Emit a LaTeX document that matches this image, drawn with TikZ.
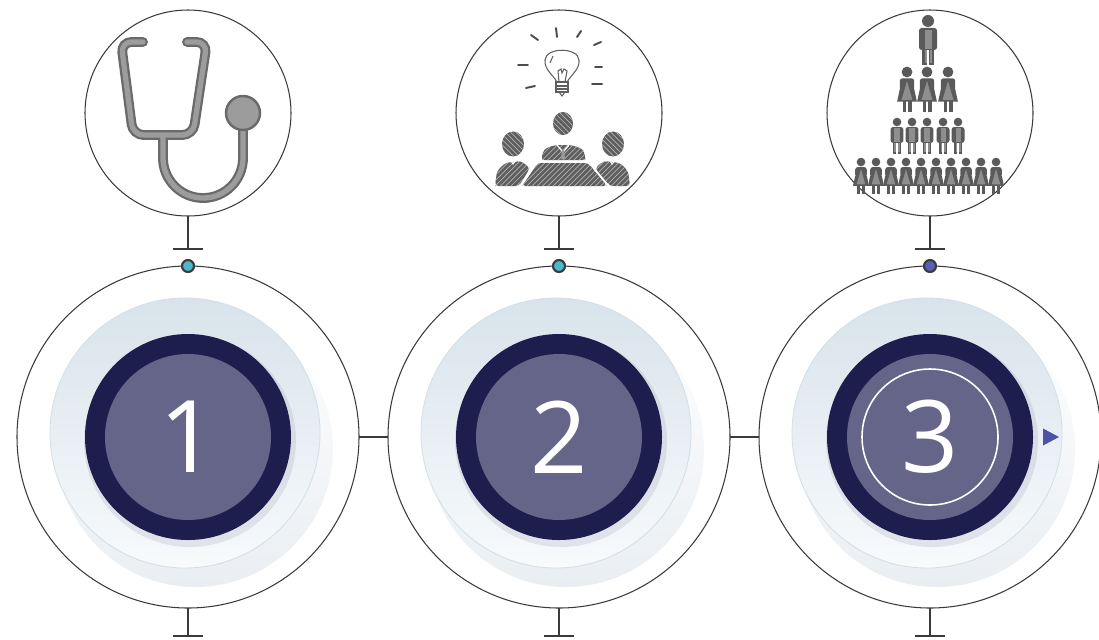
\documentclass[tikz,border=0pt]{standalone}
\usepackage{fontspec}
\setsansfont{Open Sans}
\usetikzlibrary{positioning,patterns}

\definecolor{inkgray}{HTML}{3A3A3A}
\definecolor{navy}{HTML}{1D1E4E}
\definecolor{dusk}{HTML}{646588}
\definecolor{mist}{HTML}{D8E3EB}
\definecolor{frost}{HTML}{F8FAFC}
\definecolor{haze}{HTML}{EAEEF2}
\definecolor{rim}{HTML}{D3E0E8}
\definecolor{dotcyan}{HTML}{4DB8CC}
\definecolor{dotblue}{HTML}{5560B8}
\definecolor{pointer}{HTML}{4B52A8}
\definecolor{iron}{HTML}{6A6A6A}
\definecolor{steel}{HTML}{9C9C9C}
\definecolor{sketch}{HTML}{5E5E5E}
\definecolor{figdark}{HTML}{5A5A5A}
\definecolor{figlight}{HTML}{8E8E8E}

\tikzset{
    man/.pic = {
        \fill[figdark] (0,0) circle (6);
        \fill[figdark, rounded corners=1.5pt] (-9,7) rectangle (9,29);
        \fill[figdark] (-6,28) rectangle (-0.8,44);
        \fill[figdark] (0.8,28) rectangle (6,44);
        \fill[figlight] (-3.5,9) rectangle (3.5,28);
        \fill[figlight] (-3.5,29) rectangle (-1.5,42);
        \fill[figlight] (1.5,29) rectangle (3.5,42);
    },
    woman/.pic = {
        \fill[figdark] (0,0) circle (6);
        \fill[figdark, rounded corners=1.5pt] (-8,7) rectangle (8,21);
        \fill[figdark] (-8,19) -- (8,19) -- (11,33) -- (-11,33) -- cycle;
        \fill[figdark] (-5,32) rectangle (-1.5,44);
        \fill[figdark] (1.5,32) rectangle (5,44);
        \fill[figlight] (0,10) -- (6,31) -- (-6,31) -- cycle;
    }
}

\begin{document}
\begin{tikzpicture}
    \tikzset{
        ring/.style = {circle, draw=inkgray, line width=0.6pt, minimum size=6.84cm, inner sep=0, outer sep=0},
        icon/.style = {circle, draw=inkgray, line width=0.6pt, minimum size=4.12cm, inner sep=0, outer sep=0},
        disc/.style = {circle, fill=navy, minimum size=4.12cm, inner sep=0},
        core/.style = {circle, fill=dusk, minimum size=3.32cm, inner sep=0, text=white, font=\sffamily\fontsize{57}{60}\selectfont},
        dot/.style = {circle, draw=inkgray, line width=1.2pt, minimum size=0.24cm, inner sep=0},
        tee/.style = {draw=inkgray, line width=0.9pt},
        link/.style = {draw=inkgray, line width=0.6pt},
        ray/.style = {draw=sketch!80!black, line width=1.1pt, line cap=round},
        bulb/.style = {draw=sketch, line width=0.6pt}
    }
    \useasboundingbox (0,0) rectangle (21.98,-12.78);

    \node[ring](c1) at (3.76,-8.74){};
    \node[ring](c2)[right = 0.58cm of c1]{};
    \node[ring](c3)[right = 0.58cm of c2]{};

    \node[icon](ic1)[above = 1.0cm of c1]{};
    \node[icon](ic2)[above = 1.0cm of c2]{};
    \node[icon](ic3)[above = 1.0cm of c3]{};

    \path [link] (c1.east) -- (c2.west);
    \path [link] (c2.east) -- (c3.west);

    % stems and bars
    \foreach \i in {1,2,3}{
        \coordinate (t\i) at ([yshift=-0.66cm]ic\i.south);
        \coordinate (b\i) at ([yshift=-0.56cm]c\i.south);
        \path [tee] (ic\i.south) -- (t\i);
        \path [tee] ([xshift=-0.3cm]t\i) -- ([xshift=0.3cm]t\i);
        \path [tee] (c\i.south) -- (b\i);
        \path [tee] ([xshift=-0.3cm]b\i) -- ([xshift=0.3cm]b\i);
    }

    \node[dot, fill=dotcyan](p1) at (c1.north){};
    \node[dot, fill=dotcyan](p2) at (c2.north){};
    \node[dot, fill=dotblue](p3) at (c3.north){};

    % soft plates behind the numbers
    \foreach \c in {c1,c2,c3}{
        \shade[top color=white, bottom color=haze] ([shift={(0.14,-0.24)}]\c.center) circle (2.76);
        \shade[top color=mist, bottom color=frost, draw=rim, line width=0.5pt] ([shift={(-0.06,0.08)}]\c.center) circle (2.7);
        \fill[navy!40, opacity=0.25] ([shift={(0.04,-0.08)}]\c.center) circle (2.12);
    }

    \node[disc](d1) at (c1){};
    \node[disc](d2) at (c2){};
    \node[disc](d3) at (c3){};

    \node[core](k1) at (c1){1};
    \node[core](k2) at (c2){2};
    \node[core](k3) at (c3){3};

    \draw[white, line width=0.9pt] (k3) circle (1.36);
    \fill[pointer] ([shift={(2.26,0.17)}]c3.center) -- ([shift={(2.26,-0.17)}]c3.center) -- ([shift={(2.58,0)}]c3.center) -- cycle;

    % stethoscope
    \begin{scope}[shift={(ic1.center)}, x=0.02cm, y=-0.02cm]
        \foreach \w/\col in {5.6pt/iron, 3.0pt/steel}{
            \draw[line width=\w, \col, rounded corners=6pt, line cap=round] (-45,-71) -- (-67,-71) -- (-55,22) -- (5,22) -- (19,-71) -- (-1,-71);
            \draw[line width=\w, \col, line cap=round] (-25,22) -- (-25,45) arc[start angle=180, end angle=0, radius=40] -- (55,10);
        }
        \fill[steel, draw=iron, line width=1.4pt] (55,0) circle (17);
    \end{scope}

    % meeting with a bulb
    \begin{scope}[shift={(ic2.center)}, x=0.02cm, y=-0.02cm]
        \path [ray] (-28,-78) -- (-21,-73);
        \path [ray] (-3,-85) -- (-2,-76);
        \path [ray] (22,-82) -- (18,-76);
        \path [ray] (35,-68) -- (42,-71);
        \path [ray] (-41,-48) -- (-31,-48);
        \path [ray] (36,-46) -- (43,-46);
        \path [ray] (-33,-25) -- (-24,-27);
        \path [ray] (33,-29) -- (43,-29);
        \draw[bulb] (-2,-31) .. controls (-6,-38) and (-15,-44) .. (-14,-53) .. controls (-13,-66) and (19,-66) .. (20,-53) .. controls (21,-44) and (12,-38) .. (8,-31);
        \draw[bulb] (-3,-31) rectangle (9,-21);
        \draw[bulb] (-3,-27) -- (9,-27) (-3,-24) -- (9,-24);
        \draw[bulb] (0,-21) -- (3,-17) -- (6,-21);
        \draw[bulb] (0,-31) -- (-1,-42) -- (2,-44) -- (3,-40) -- (5,-44) -- (8,-42) -- (6,-31);
        \draw[bulb] (-9,-50) -- (-6,-57);
        \foreach \fig in {
            {(-21,50) -- (29,50) -- (48,73) -- (-37,73) -- cycle},
            {(-18,47) -- (-15,36) -- (-4,32) -- (12,32) -- (24,36) -- (27,47) -- cycle},
            {(-64,73) -- (-62,58) -- (-54,50) -- (-38,48) -- (-29,55) -- (-40,73) -- cycle},
            {(71,73) -- (69,58) -- (61,50) -- (45,48) -- (36,55) -- (51,73) -- cycle}}{
            \fill[sketch, rounded corners=2pt] \fig;
            \fill[pattern=north east lines, pattern color=gray!60] \fig;
        }
        \foreach \hx/\hy/\hr in {4/10.5/10, -46/31/11, 54/31/11}{
            \fill[sketch] (\hx,\hy) ellipse [x radius=\hr, y radius=\hr+1.5];
            \fill[pattern=north west lines, pattern color=gray!60] (\hx,\hy) ellipse [x radius=\hr, y radius=\hr+1.5];
        }
        \draw[white, line width=0.7pt] (-2,32) -- (4,39) -- (10,32);
        \fill[gray!80] (3,36) -- (5,36) -- (6,46) -- (2,46) -- cycle;
        \draw[white, line width=0.6pt] (-49,46) -- (-46,51) -- (-42,46);
        \draw[white, line width=0.6pt] (50,46) -- (53,51) -- (57,46);
    \end{scope}

    % pyramid of staff
    \begin{scope}[shift={(ic3.center)}, x=0.02cm, y=-0.02cm]
        \pic at (-2,-92) {man};
        \foreach \px in {-23,-3,18}
            \pic[scale=0.9] at (\px,-41) {woman};
        \foreach \px in {-33,-18,-3,13,28}
            \pic[scale=0.72] at (\px,9) {man};
        \foreach \k in {0,...,9}
            \pic[scale=0.72] at ({-69+15*\k},49) {woman};
    \end{scope}
\end{tikzpicture}
\end{document}
